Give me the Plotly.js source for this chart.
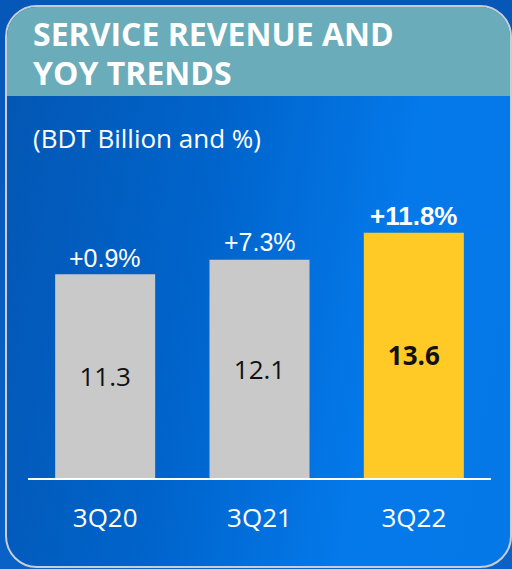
<!DOCTYPE html>
<html>
<head>
<meta charset="utf-8">
<script src="https://cdn.plot.ly/plotly-3.0.1.min.js"></script>
<style>
  html, body { margin:0; padding:0; width:512px; height:569px; overflow:hidden; background:#0a5cbc; }
  #wrap { position:relative; width:512px; height:569px; background:linear-gradient(180deg,#0657b8 0%,#0a62c6 100%); }
  #card { position:absolute; left:5px; top:5px; width:507px; height:563px; border:2px solid #c9ced6; border-radius:32px; overflow:hidden;
          background:linear-gradient(100deg,#0456b2 0%,#0064cc 40%,#0479ea 72%,#0578e6 100%); box-sizing:border-box; }
  #head { position:absolute; left:0; top:0; width:100%; height:89px; background:#6aacb9; }
  #chart { position:absolute; left:0; top:0; width:512px; height:569px; }
</style>
</head>
<body>
<div id="wrap">
  <div id="card"><div id="head"></div></div>
  <div id="chart"></div>
</div>
<script>
const categories = ['3Q20', '3Q21', '3Q22'];
const revenue = [11.3, 12.1, 13.6];
const yoyLabels = ['+0.9%', '+7.3%', '+11.8%'];
const titleLines = ['SERVICE REVENUE AND', 'YOY TRENDS'];
const subtitle = '(BDT Billion and %)';

const W = 512, H = 569;
const M = {l: 28, r: 21, t: 209, b: 91};
const plotH = H - M.t - M.b;
const yTop = plotH / 18.03;
const py = p => (H - M.b - p) / plotH;     // pixel y -> paper y
const px = p => (p - M.l) / (W - M.l - M.r); // pixel x -> paper x

const barColors = revenue.map((v, i) => i === revenue.length - 1 ? '#ffc926' : '#c9c9c9');
const barText = revenue.map((v, i) => i === revenue.length - 1 ? '<b>' + v.toFixed(1) + '</b>' : v.toFixed(1));

const trace = {
  type: 'bar',
  x: categories,
  y: revenue,
  width: 0.648,
  marker: {color: barColors, line: {width: 0}},
  text: barText,
  textposition: 'inside',
  insidetextanchor: 'middle',
  textangle: 0,
  constraintext: 'none',
  textfont: {family: 'Open Sans', size: 26, color: '#111111'},
  hoverinfo: 'none'
};

const annotations = categories.map((c, i) => ({
  x: c, y: revenue[i], xref: 'x', yref: 'y',
  xanchor: 'center', yanchor: 'bottom', showarrow: false,
  yshift: i === 1 ? 2 : 0,
  text: i === categories.length - 1 ? '<b>' + yoyLabels[i] + '</b>' : yoyLabels[i],
  font: {family: 'Liberation Sans, Arial', size: i === categories.length - 1 ? 26 : 25, color: '#ffffff'}
}));

annotations.push({
  xref: 'paper', yref: 'paper', x: px(31), y: py(33.5), xanchor: 'left', yanchor: 'middle',
  showarrow: false, text: '<b>' + titleLines[0] + '</b>',
  font: {family: 'Open Sans', size: 32, color: '#ffffff'}
});
annotations.push({
  xref: 'paper', yref: 'paper', x: px(31), y: py(72.5), xanchor: 'left', yanchor: 'middle',
  showarrow: false, text: '<b>' + titleLines[1] + '</b>',
  font: {family: 'Open Sans', size: 32, color: '#ffffff'}
});
annotations.push({
  xref: 'paper', yref: 'paper', x: px(31), y: py(138), xanchor: 'left', yanchor: 'middle',
  showarrow: false, text: subtitle,
  font: {family: 'Open Sans', size: 26, color: '#ffffff'}
});

const layout = {
  width: W, height: H,
  margin: M,
  paper_bgcolor: 'rgba(0,0,0,0)',
  plot_bgcolor: 'rgba(0,0,0,0)',
  showlegend: false,
  xaxis: {
    type: 'category', range: [-0.5, 2.5], fixedrange: true,
    showline: true, linecolor: '#ffffff', linewidth: 2,
    showgrid: false, zeroline: false,
    ticks: 'outside', ticklen: 16, tickcolor: 'rgba(0,0,0,0)',
    tickfont: {family: 'Open Sans', size: 26, color: '#ffffff'}
  },
  yaxis: {range: [0, yTop], visible: false, fixedrange: true},
  annotations: annotations
};

Plotly.newPlot('chart', [trace], layout, {staticPlot: true, displayModeBar: false});
</script>
</body>
</html>
